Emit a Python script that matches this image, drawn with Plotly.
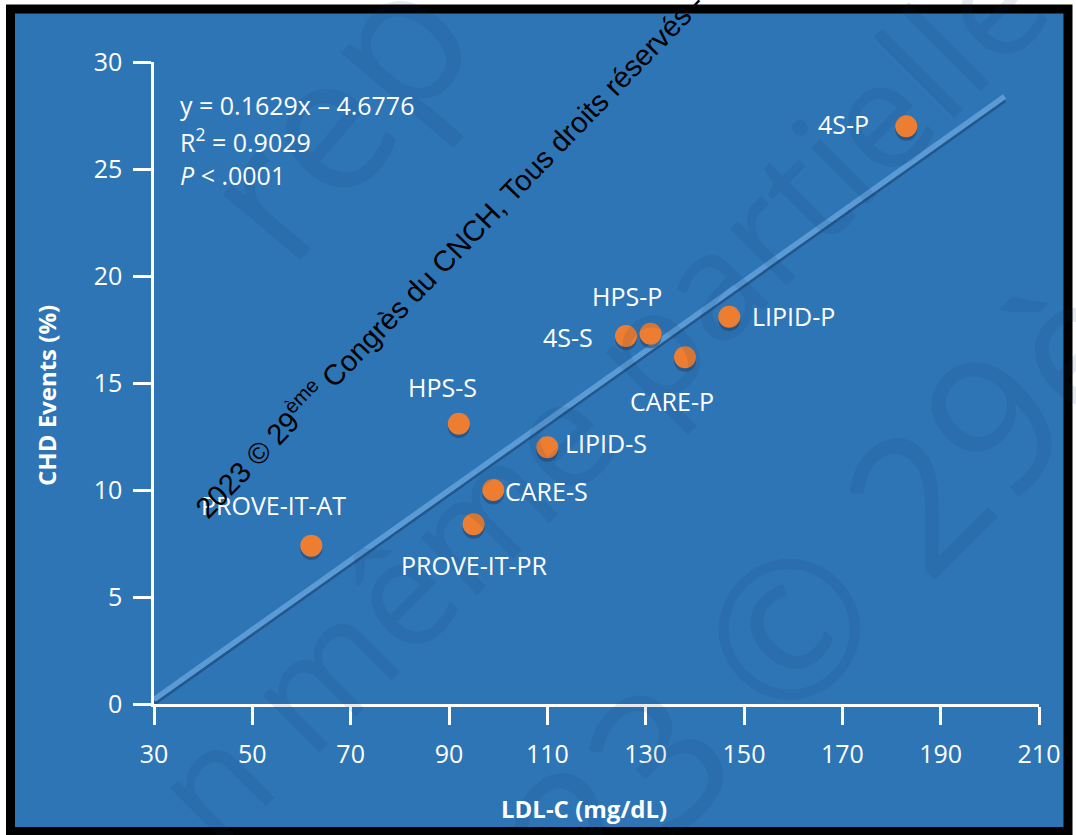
import plotly.graph_objects as go

# ---------------- data ----------------
trials = ["PROVE-IT-AT", "PROVE-IT-PR", "HPS-S", "CARE-S", "LIPID-S",
          "4S-S", "HPS-P", "CARE-P", "LIPID-P", "4S-P"]
ldl_c = [62, 95, 92, 99, 110, 126, 131, 138, 147, 183]
chd_events = [7.4, 8.4, 13.1, 10.0, 12.0, 17.2, 17.3, 16.2, 18.1, 27.0]
# label offsets (pixels) relative to each point
label_dx = [-38, 1, -16, 53, 59, -58, -24, -13, 64, -63]
label_dy = [41, -41, 37, -1, 4, -1, 38, -44, 1, 2]

slope = 0.1629
intercept = -4.6776
trend_x = [30, 203]
x_ticks = [30, 50, 70, 90, 110, 130, 150, 170, 190, 210]
y_ticks = [0, 5, 10, 15, 20, 25, 30]

# ---------------- style ----------------
BLUE = "#2E75B6"
ORANGE = "#ED7D31"
LINE_BLUE = "#5B9BD5"
FONT = "Open Sans"

FIG_W, FIG_H = 1076, 835
L, R, T, B = 154, 37, 62, 131
W = FIG_W - L - R
H = FIG_H - T - B


def px(x):
    return (x - L) / W


def py(y):
    return (T + H - y) / H


trend_y = [slope * v + intercept for v in trend_x]

fig = go.Figure()
# trend line shadow and trend line
fig.add_trace(go.Scatter(x=trend_x, y=[v - 0.13 for v in trend_y], mode="lines",
                         line=dict(color="rgba(25,60,105,0.55)", width=6),
                         hoverinfo="skip", showlegend=False))
fig.add_trace(go.Scatter(x=trend_x, y=trend_y, mode="lines",
                         line=dict(color=LINE_BLUE, width=5.5),
                         hoverinfo="skip", showlegend=False))
# marker shadows and markers
fig.add_trace(go.Scatter(x=ldl_c, y=[v - 0.16 for v in chd_events], mode="markers",
                         marker=dict(size=22, color="rgba(25,55,95,0.45)", line=dict(width=0)),
                         hoverinfo="skip", showlegend=False))
fig.add_trace(go.Scatter(x=ldl_c, y=chd_events, mode="markers",
                         marker=dict(size=22, color=ORANGE, line=dict(width=0)),
                         text=trials, showlegend=False))

annotations = []

# faint large background watermark
wm_color = "rgba(10,45,95,0.10)"
for txt, cx, cy, size, ang in [
    ("rep", 330, 110, 190, -50),
    ("n même partielle", 597, 393, 150, -45),
    ("2023 © 29ème", 846, 564, 190, -45),
]:
    annotations.append(dict(text=txt, x=px(cx), y=py(cy), xref="paper", yref="paper",
                            showarrow=False, textangle=ang, xanchor="center", yanchor="middle",
                            font=dict(family=FONT, size=size, color=wm_color)))

# point labels
for name, xv, yv, dx, dy in zip(trials, ldl_c, chd_events, label_dx, label_dy):
    annotations.append(dict(text=name, x=xv, y=yv, xref="x", yref="y", showarrow=False,
                            xshift=dx, yshift=dy, xanchor="center", yanchor="middle",
                            font=dict(family=FONT, size=25, color="white")))

# equation block
for txt, yy in [("y = 0.1629x – 4.6776", 105),
                ("R<sup>2</sup> = 0.9029", 140),
                ("<i>P</i> &lt; .0001", 175)]:
    annotations.append(dict(text=txt, x=px(178), y=py(yy), xref="paper", yref="paper",
                            showarrow=False, xanchor="left", yanchor="middle",
                            font=dict(family=FONT, size=25, color="white")))

# axis titles
annotations.append(dict(text="<b>CHD Events (%)</b>", x=px(47), y=py(396), xref="paper",
                        yref="paper", showarrow=False, textangle=-90,
                        xanchor="center", yanchor="middle",
                        font=dict(family=FONT, size=24, color="white")))
annotations.append(dict(text="<b>LDL-C (mg/dL)</b>", x=px(584), y=py(808), xref="paper",
                        yref="paper", showarrow=False, xanchor="center", yanchor="middle",
                        font=dict(family=FONT, size=24, color="white")))

# black copyright watermark
annotations.append(dict(text="2023 © 29<sup>ème</sup> Congrès du CNCH, Tous droits réservés -",
                        x=px(448), y=py(254), xref="paper", yref="paper", showarrow=False,
                        textangle=-46, xanchor="center", yanchor="middle",
                        font=dict(family="Liberation Sans", size=29, color="black")))

shapes = [dict(type="rect", xref="paper", yref="paper",
               x0=px(10.5), x1=px(1068), y0=py(831.5), y1=py(9),
               line=dict(color="black", width=9), fillcolor=BLUE, layer="below")]

axis_common = dict(showgrid=False, zeroline=False, showline=True, linecolor="white",
                   linewidth=2.5, ticks="outside", ticklen=18, tickwidth=2.5,
                   tickcolor="white", automargin=False,
                   tickfont=dict(family=FONT, size=25, color="white"))

fig.update_layout(
    width=FIG_W, height=FIG_H,
    margin=dict(l=L, r=R, t=T, b=B, pad=0),
    paper_bgcolor="white", plot_bgcolor="rgba(0,0,0,0)",
    xaxis=dict(range=[30, 210], tickvals=x_ticks, ticklabelstandoff=8, **axis_common),
    yaxis=dict(range=[0, 30], tickvals=y_ticks, ticklabelstandoff=6, **axis_common),
    shapes=shapes, annotations=annotations, showlegend=False,
)

fig.write_html("out.html", config={"displayModeBar": False},
               post_script="document.body.style.margin='0';")
